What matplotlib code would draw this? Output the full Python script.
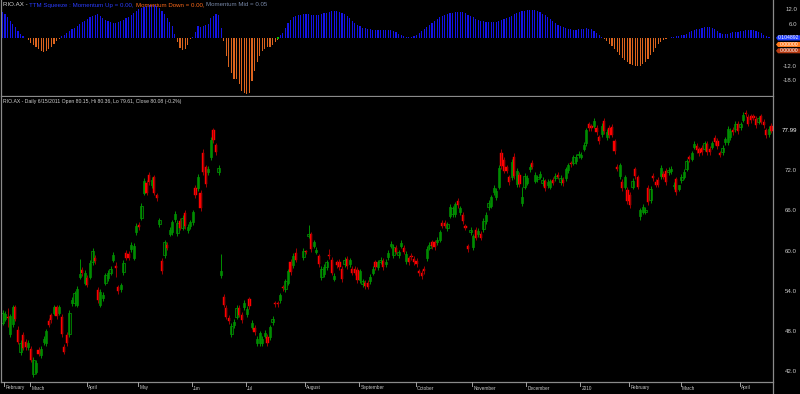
import numpy as np
import pandas as pd
import matplotlib
matplotlib.use('Agg')
import matplotlib.pyplot as plt
from matplotlib.lines import Line2D
from matplotlib.patches import Polygon

plt.rcParams['font.family'] = ['Liberation Sans', 'DejaVu Sans']

nan = float('nan')

opens = [
    49.3, 49.9, 50.2, 47.6, 49.1, 51.6, 48.2, 44.9, 47.5, 46.5,
    45.7, 45.4, 41.6, 42.0, 45.3, 44.5, 46.4, 46.3, 49.6, 50.4,
    50.8, 51.6, 50.8, 50.2, 45.7, 47.5, 47.6, 52.2, 52.2, 52.0,
    56.2, 57.2, 55.3, 56.0, 56.2, 58.3, 59.0, 54.2, 52.0, 53.0,
    55.3, 56.0, 56.8, 58.7, 57.7, 54.6, 54.3, 56.9, 59.7, 59.6,
    60.3, 59.0, 62.8, 63.9, 65.0, 68.7, 70.2, 71.4, 69.8, 71.0,
    68.3, 64.0, 58.5, 59.4, 60.9, 62.6, 62.8, 64.8, 62.7, 64.5,
    63.5, 65.7, 63.1, 63.7, 64.3, 69.4, 69.4, 68.7, 74.6, 72.5,
    71.8, 74.0, 78.0, 75.8, 71.8, 56.4, 53.1, 51.5, 50.0, 47.6,
    48.9, 50.2, 51.5, 50.5, 51.6, 50.6, 52.8, 48.7, 48.5, 46.3,
    46.3, 46.3, 47.4, 47.2, 47.2, 49.4, 52.3, 52.3, 52.7, 54.7,
    54.3, 55.3, 58.4, 57.9, 59.7, nan, nan, 59.1, 59.95, 62.3,
    62.5, 60.8, 59.9, 59.2, 56.1, 56.6, 57.6, 59.35, 58.7, 55.9,
    58.3, 58.4, 57.4, 58.0, 58.8, 58.0, 57.4, 57.4, 57.2, 55.7,
    55.1, 55.3, 55.3, 55.5, 56.8, 58.3, 57.6, 58.4, 58.5, 58.0,
    59.1, 60.8, 59.4, 60.5, 59.4, 60.8, 60.5, 58.5, 58.9, 59.3,
    58.8, 58.5, 57.0, 56.8, 57.4, 58.9, 60.5, 61.3, 61.3, 61.3,
    61.7, 64.2, 64.2, 63.4, 65.3, 65.5, 65.5, 67.5, 65.8, 65.4,
    63.7, 60.7, 62.8, 60.6, 63.2, 62.5, 62.6, 63.3, 64.5, 66.6,
    66.8, 68.8, 68.1, 69.6, 74.6, 73.6, 72.5, 71.0, 71.0, 74.0,
    70.0, 71.4, 67.2, 69.6, 70.2, 72.2, 73.2, 70.5, 70.7, 71.1,
    70.1, 70.4, 69.8, 69.6, 70.6, 70.9, 71.4, 70.3, 70.6, 70.9,
    72.1, 73.1, 73.2, 73.4, 74.3, 74.1, 75.3, 76.1, 78.9, 78.6,
    78.7, 78.4, 77.0, 77.5, 79.4, 77.0, 78.4, 78.5, 76.4, 72.5,
    71.2, 70.3, 69.6, 69.1, 68.4, 69.6, 72.2, 71.0, 65.2, 65.9,
    65.9, 69.4, 67.6, 71.2, 70.3, 70.6, 71.2, 71.5, 72.0, 71.8,
    71.9, 69.7, 70.7, 69.3, 70.6, 71.1, 72.3, 74.0, 73.8, 75.6,
    75.7, 75.2, 75.4, 75.3, 76.0, 75.3, 75.6, 76.9, 76.5, 74.6,
    74.8, 76.3, 76.3, 77.0, 78.1, 78.2, 79.0, 78.5, 79.6, 80.6,
    80.0, 80.1, 80.1, 79.7, 79.3, 80.1, 79.3, 78.0, 77.5, 78.7,
]

closes = [
    50.8, 50.6, 50.0, 50.3, 51.6, 49.9, 46.5, 46.3, 45.6, 45.7,
    46.3, 43.8, 43.8, 43.3, 44.7, 45.4, 46.9, 48.0, 49.0, 49.7,
    51.6, 50.3, 51.6, 47.6, 45.0, 46.3, 50.8, 52.7, 53.7, 54.3,
    56.6, 56.7, 56.8, 55.0, 58.2, 60.0, 58.5, 52.7, 53.9, 53.5,
    56.4, 56.8, 57.4, 59.4, 57.5, 54.0, 54.9, 58.2, 59.0, 59.0,
    60.9, 60.8, 63.8, 63.6, 66.8, 70.5, 68.7, 70.3, 70.6, 68.7,
    67.9, 64.6, 57.0, 61.3, 60.5, 63.2, 64.3, 65.6, 64.2, 63.5,
    65.0, 63.7, 63.6, 64.3, 65.8, 68.3, 71.0, 66.4, 71.8, 70.0,
    72.3, 76.6, 76.6, 74.8, 72.4, 57.0, 52.0, 50.2, 49.5, 48.8,
    49.4, 51.5, 50.5, 49.7, 52.3, 51.4, 51.8, 49.3, 47.9, 46.9,
    47.7, 46.9, 47.8, 46.3, 48.6, 49.9, 52.1, 52.1, 53.4, 54.5,
    55.5, 57.0, 56.9, 59.3, 58.7, nan, nan, 60.0, 59.85, 62.6,
    60.3, 61.3, 60.2, 58.0, 57.4, 57.6, 58.3, 59.25, 56.8, 56.3,
    57.9, 57.6, 55.8, 58.7, 57.8, 58.6, 56.8, 56.8, 55.7, 57.0,
    55.5, 54.8, 54.7, 56.2, 57.4, 57.6, 58.3, 58.7, 57.6, 58.4,
    59.7, 61.1, 60.6, 59.9, 59.8, 61.2, 59.9, 59.6, 58.3, 59.1,
    58.3, 58.0, 56.7, 56.3, 57.0, 60.3, 60.9, 60.7, 60.6, 61.7,
    62.8, 63.8, 63.8, 64.0, 66.6, 66.4, 67.0, 66.9, 66.4, 64.5,
    63.5, 60.3, 63.2, 62.2, 62.0, 63.0, 62.0, 64.5, 65.4, 67.2,
    68.0, 69.4, 69.0, 72.4, 72.7, 72.0, 72.0, 70.3, 73.3, 71.2,
    72.0, 70.0, 68.0, 71.2, 70.9, 72.6, 72.6, 71.4, 71.0, 71.5,
    70.6, 69.4, 70.3, 70.4, 70.2, 71.2, 71.1, 70.9, 70.1, 72.2,
    72.8, 73.0, 74.0, 74.1, 74.5, 74.4, 75.9, 78.0, 78.3, 78.3,
    79.4, 77.8, 76.4, 78.7, 77.9, 77.8, 77.3, 77.4, 74.9, 72.3,
    72.8, 69.4, 71.0, 67.5, 66.9, 70.5, 71.2, 69.6, 66.1, 66.6,
    66.2, 67.3, 69.3, 70.9, 69.9, 69.9, 72.4, 71.1, 70.3, 72.1,
    72.3, 69.9, 68.8, 69.8, 71.1, 71.8, 73.4, 73.7, 74.6, 76.0,
    75.1, 74.6, 74.8, 76.1, 74.8, 74.8, 76.1, 76.3, 75.7, 74.4,
    75.4, 76.7, 78.2, 77.9, 77.8, 79.0, 77.9, 78.9, 80.3, 80.4,
    79.0, 79.5, 79.9, 78.8, 79.8, 79.3, 78.8, 77.3, 78.2, 77.99,
]

highs = [
    51.2, 51.0, 51.5, 50.6, 52.0, 52.0, 48.8, 46.8, 47.9, 46.9,
    46.7, 45.8, 44.2, 43.8, 45.7, 45.8, 47.3, 48.4, 50.0, 50.8,
    52.0, 52.0, 52.0, 50.6, 46.1, 47.9, 51.2, 53.1, 54.1, 54.8,
    58.8, 57.6, 57.2, 56.4, 58.6, 60.4, 59.4, 54.6, 54.3, 53.9,
    56.8, 57.2, 57.8, 59.8, 58.3, 55.0, 55.3, 58.6, 60.1, 60.0,
    61.3, 61.2, 64.2, 64.3, 67.2, 70.9, 70.6, 71.8, 71.0, 71.4,
    68.7, 65.0, 58.9, 61.7, 61.3, 63.6, 64.7, 66.0, 64.6, 64.9,
    65.4, 66.1, 64.0, 64.7, 66.2, 69.8, 71.5, 69.1, 75.2, 72.9,
    72.7, 77.0, 78.4, 76.2, 72.8, 59.5, 53.6, 51.9, 50.4, 49.2,
    49.8, 51.9, 51.9, 50.9, 52.7, 51.8, 53.2, 49.7, 48.9, 47.3,
    48.1, 47.3, 48.2, 47.6, 49.0, 50.3, 52.6, 52.6, 53.8, 55.0,
    55.9, 57.4, 58.8, 59.7, 60.5, nan, nan, 60.4, 60.2, 63.9,
    62.9, 61.7, 60.6, 59.6, 57.8, 58.0, 58.7, 60.3, 59.1, 56.7,
    58.7, 58.8, 57.8, 59.1, 59.2, 59.0, 57.8, 57.8, 57.6, 57.4,
    55.9, 55.7, 55.7, 56.6, 57.8, 58.7, 58.7, 59.1, 58.9, 58.8,
    60.1, 61.5, 61.0, 60.9, 60.2, 61.6, 60.9, 60.0, 59.3, 59.7,
    59.2, 58.9, 57.4, 57.2, 57.8, 60.7, 61.3, 61.7, 61.7, 62.1,
    63.2, 64.6, 64.6, 64.4, 67.0, 66.8, 67.4, 67.9, 66.8, 65.8,
    64.1, 61.1, 63.6, 62.6, 63.6, 63.4, 63.0, 64.9, 65.8, 67.6,
    68.4, 69.8, 69.4, 72.8, 75.2, 74.0, 72.9, 71.4, 73.7, 74.6,
    72.4, 71.8, 69.6, 71.6, 71.3, 73.0, 73.6, 71.8, 71.4, 71.9,
    71.0, 70.8, 70.7, 70.8, 71.0, 71.6, 71.8, 71.3, 71.0, 72.6,
    73.2, 73.4, 74.4, 74.5, 74.9, 74.8, 76.3, 78.4, 79.3, 79.0,
    79.8, 78.8, 77.4, 79.1, 79.8, 78.2, 78.8, 78.9, 76.8, 73.0,
    73.2, 70.7, 71.4, 69.5, 68.8, 70.9, 72.6, 71.4, 66.5, 67.0,
    66.6, 69.8, 69.7, 71.6, 70.7, 71.0, 72.8, 71.9, 72.4, 72.5,
    72.7, 70.3, 71.1, 69.8, 71.5, 72.2, 73.8, 74.4, 75.0, 76.4,
    76.1, 75.6, 75.8, 76.5, 76.4, 75.7, 76.5, 77.3, 76.9, 75.0,
    75.8, 77.1, 78.6, 78.3, 78.5, 79.4, 79.4, 79.3, 80.7, 81.0,
    80.4, 80.5, 80.5, 80.1, 80.2, 80.5, 79.7, 78.4, 78.6, 79.1,
]

lows = [
    48.9, 49.5, 48.6, 47.2, 48.7, 49.5, 46.1, 44.5, 45.2, 45.3,
    45.3, 43.4, 41.2, 41.6, 44.3, 44.1, 46.0, 45.9, 48.6, 49.3,
    50.4, 49.9, 50.4, 47.2, 44.6, 45.9, 47.2, 51.8, 51.8, 51.6,
    55.8, 56.3, 54.9, 54.6, 55.8, 57.9, 58.1, 52.3, 51.6, 52.6,
    54.9, 55.6, 56.4, 58.3, 56.1, 53.6, 53.9, 56.5, 58.6, 58.6,
    59.9, 58.6, 62.4, 63.2, 64.6, 68.3, 68.3, 69.9, 69.4, 68.3,
    67.5, 63.6, 56.6, 59.0, 60.1, 62.2, 62.4, 64.4, 62.3, 63.1,
    63.1, 63.3, 62.7, 63.3, 63.9, 67.9, 69.0, 66.0, 71.4, 69.6,
    71.4, 73.6, 76.2, 74.4, 71.4, 56.0, 51.6, 49.8, 49.1, 47.2,
    48.5, 49.8, 50.1, 49.3, 51.2, 50.2, 51.4, 48.3, 47.5, 45.9,
    45.9, 45.9, 47.0, 45.9, 46.8, 49.0, 51.7, 51.7, 52.3, 54.1,
    53.9, 54.9, 56.5, 57.5, 58.3, nan, nan, 58.7, 59.5, 61.9,
    59.9, 60.4, 59.5, 57.6, 55.7, 56.2, 57.2, 58.8, 56.4, 55.5,
    57.5, 57.2, 55.4, 57.6, 57.4, 57.6, 56.4, 56.4, 55.3, 55.3,
    54.7, 54.4, 54.3, 55.1, 56.4, 57.2, 57.2, 58.0, 57.2, 57.6,
    58.7, 60.4, 59.0, 59.5, 59.0, 60.4, 59.5, 58.1, 57.9, 58.7,
    57.9, 57.6, 56.3, 55.9, 56.6, 58.5, 60.1, 60.3, 60.2, 60.9,
    61.3, 63.4, 63.4, 63.0, 64.9, 65.1, 65.1, 66.5, 65.4, 64.1,
    63.1, 59.9, 62.4, 60.2, 61.6, 62.1, 61.6, 62.9, 64.1, 66.2,
    66.4, 68.4, 67.7, 69.2, 72.3, 71.6, 71.6, 69.9, 70.6, 70.8,
    69.6, 69.6, 66.8, 69.2, 69.8, 71.8, 72.2, 70.1, 70.3, 70.7,
    69.7, 69.0, 69.4, 69.2, 69.8, 70.5, 70.7, 69.9, 69.7, 70.5,
    71.7, 72.6, 72.8, 73.0, 73.9, 73.7, 74.9, 75.7, 77.9, 77.9,
    78.3, 77.4, 76.0, 77.1, 77.5, 76.6, 76.9, 77.0, 74.5, 71.9,
    70.8, 69.0, 69.2, 67.1, 66.5, 69.2, 70.8, 69.2, 64.6, 65.5,
    65.5, 66.9, 67.2, 70.5, 69.5, 69.5, 70.8, 70.7, 69.9, 71.4,
    71.5, 69.3, 68.4, 68.9, 70.2, 70.7, 71.9, 73.3, 73.4, 75.2,
    74.7, 74.2, 74.4, 74.9, 74.4, 74.4, 75.2, 75.9, 75.3, 74.0,
    74.4, 75.9, 75.9, 76.6, 77.4, 77.8, 77.5, 78.1, 79.2, 80.0,
    78.6, 79.1, 79.5, 78.4, 78.9, 78.9, 78.4, 76.9, 77.1, 77.6,
]

momentum = [
    11.2, 10.3, 9.0, 7.5, 6.0, 4.6, 3.2, 2.0, 1.0, 0.2,
    -0.8, -1.8, -2.8, -3.8, -4.6, -5.2, -5.6, -5.3, -4.5, -3.5,
    -2.4, -1.2, -0.2, 0.8, 1.6, 2.4, 3.0, 3.8, 4.4, 5.2,
    6.0, 6.8, 7.5, 8.2, 8.8, 9.3, 9.8, 10.2, 9.5, 8.6,
    7.8, 7.2, 6.8, 6.6, 6.6, 6.8, 7.2, 7.8, 8.5, 9.2,
    10.0, 10.8, 11.6, 12.3, 12.9, 13.4, 13.8, 14.0, 14.2, 14.0,
    13.6, 12.8, 11.6, 10.2, 8.6, 7.0, 5.0, 2.0, -1.5, -4.1,
    -5.0, -4.4, -2.8, -0.5, 0.6, 2.7, 5.2, 4.6, 5.2, 5.6,
    6.0, 8.5, 9.6, 10.3, 10.0, 4.2, -1.0, -7.3, -12.3, -14.5,
    -17.0, -17.2, -19.3, -22.3, -23.0, -23.5, -23.0, -18.0, -13.7, -10.2,
    -7.3, -5.2, -4.4, -3.7, -3.7, -3.0, -1.6, -0.6, 1.4, 2.2,
    4.2, 6.3, 7.8, 8.8, 9.5, 9.9, 10.0, 10.2, 10.3, 10.2,
    10.0, 9.8, 9.8, 10.0, 10.3, 10.6, 10.9, 11.2, 11.4, 11.5,
    11.4, 11.2, 10.8, 10.2, 9.4, 8.4, 7.4, 6.4, 5.6, 5.0,
    4.5, 4.2, 4.0, 3.8, 3.6, 3.5, 3.4, 3.4, 3.5, 3.6,
    3.6, 3.4, 3.0, 2.6, 2.0, 1.5, 1.0, 0.6, 0.4, 0.5,
    0.9, 1.5, 2.2, 3.0, 3.9, 4.8, 5.7, 6.6, 7.4, 8.1,
    8.8, 9.4, 9.9, 10.3, 10.6, 10.9, 11.1, 11.2, 11.2, 11.0,
    10.6, 10.0, 9.4, 8.8, 8.3, 7.9, 7.5, 7.2, 7.0, 6.9,
    6.9, 7.0, 7.1, 7.3, 7.6, 8.0, 8.5, 9.0, 9.6, 10.1,
    10.6, 11.0, 11.4, 11.7, 11.9, 12.0, 12.0, 11.8, 11.5, 11.0,
    10.4, 9.7, 9.0, 8.2, 7.4, 6.6, 5.8, 5.2, 4.7, 4.3,
    4.0, 3.8, 3.7, 3.7, 3.8, 3.9, 4.1, 4.2, 4.1, 3.8,
    3.2, 2.4, 1.5, 0.6, -0.3, -1.2, -2.2, -3.3, -4.5, -5.8,
    -7.0, -8.2, -9.3, -10.2, -10.9, -11.4, -11.7, -11.8, -11.6, -11.0,
    -10.0, -8.7, -7.2, -5.6, -4.0, -2.6, -1.5, -0.8, -0.3, 0.1,
    0.4, 0.6, 0.8, 1.0, 1.3, 1.6, 2.0, 2.5, 3.0, 3.6,
    4.1, 4.0, 4.4, 4.6, 4.7, 4.6, 4.3, 3.8, 3.0, 2.4,
    1.9, 1.8, 2.0, 2.3, 2.5, 2.6, 2.7, 2.9, 3.3, 3.5,
    3.6, 3.6, 3.4, 3.0, 2.6, 2.2, 1.6, 1.1, 0.6, 0.104892,
]

squeeze_dots = [107]

holidays = pd.to_datetime(['2009-04-10', '2009-04-13', '2009-06-08', '2009-12-25',
                           '2009-12-28', '2010-01-01', '2010-01-26', '2010-04-02',
                           '2010-04-05'])
month_labels = ['February', 'March', 'April', 'May', 'Jun', 'Jul', 'August',
                'September', 'October', 'November', 'December', '2010',
                'February', 'March', 'April']
price_ticks = [72.0, 66.0, 60.0, 54.0, 48.0, 42.0]
mom_ticks = [12.0, 6.0, -12.0, -18.0]

title_top = [("RIO.AX - ", '#d8d8d8'),
             ("TTM Squeeze : Momentum Up = 0.00, ", '#2a3cff'),
             ("Momentum Down = 0.00, ", '#ff6a1a'),
             ("Momentum Mid = 0.05", '#7888a8')]
title_bottom = "RIO.AX - Daily 6/15/2011 Open 80.15, Hi 80.36, Lo 79.61, Close 80.08 (-0.2%)"

# ---------------------------------------------------------------------------
n = len(closes)
o = np.array(opens, float)
c = np.array(closes, float)
h = np.array(highs, float)
l = np.array(lows, float)
m = np.array(momentum, float)
idx = np.arange(n)

all_days = pd.bdate_range('2009-02-16', '2010-06-30')
dates = all_days[~all_days.isin(holidays)][:n]

W, H = 800, 394
fig = plt.figure(figsize=(W / 100, H / 100), dpi=100, facecolor='black')
renderer = fig.canvas.get_renderer()


def box(x0, y0, x1, y1):
    return [x0 / W, 1 - y1 / H, (x1 - x0) / W, (y1 - y0) / H]


XMIN, XMAX = -0.6, 299.6
AX_L, AX_R = 1, 773
ax1 = fig.add_axes(box(AX_L, 0, AX_R, 96))
ax2 = fig.add_axes(box(AX_L, 97, AX_R, 382))
for ax in (ax1, ax2):
    ax.set_facecolor('black')
    ax.set_xlim(XMIN, XMAX)
    ax.set_xticks([])
    ax.set_yticks([])
    for s in ax.spines.values():
        s.set_color('#8a8a8a')
        s.set_linewidth(0.9)
    ax.spines['top'].set_visible(False)
    ax.spines['right'].set_visible(False)

ax1.set_ylim(-24.4, 16.2)
ax2.set_ylim(40.46, 83.0)

# momentum histogram
col_m = np.where(m >= 0, '#1414e6', '#dc641e')
ax1.bar(idx, m, width=0.48, color=col_m, linewidth=0)
ax1.plot(squeeze_dots, [0] * len(squeeze_dots), 's', color='#00c000', ms=1.8, mew=0)

# candles
valid = ~np.isnan(c)
up = valid & (c >= o)
dn = valid & (c < o)
ax2.vlines(idx[up], l[up], h[up], color='#009000', linewidth=0.7)
ax2.vlines(idx[dn], l[dn], h[dn], color='#a00000', linewidth=0.7)
ax2.bar(idx[up], np.maximum(c[up] - o[up], 0.08), bottom=o[up], width=0.9,
        facecolor='#001a00', edgecolor='#00a000', linewidth=0.5)
ax2.bar(idx[dn], np.minimum(c[dn] - o[dn], -0.08), bottom=o[dn], width=0.85,
        facecolor='#ff0000', edgecolor='#ff0000', linewidth=0.3)


def px_x(i):
    return AX_L + (i - XMIN) / (XMAX - XMIN) * (AX_R - AX_L)


def fit(text, target, base=6.0):
    t = fig.text(0, 0, text, fontsize=base)
    w = t.get_window_extent(renderer).width
    t.remove()
    return base * target / w


# right-hand vertical separator
fig.add_artist(Line2D([AX_R / W, AX_R / W], [0, 1], color='#8a8a8a', lw=0.9))

# headers
s_top = fit(''.join(p for p, _ in title_top), 267)
x = 3.0
for part, col in title_top:
    t = fig.text(x / W, 1 - 5 / H, part, color=col, fontsize=s_top, va='center', ha='left')
    x += t.get_window_extent(renderer).width
s_bot = fit(title_bottom, 181)
fig.text(3 / W, 1 - 101.5 / H, title_bottom, color='#d0d0d0', fontsize=s_bot,
         va='center', ha='left')

# axis labels (right)
s_lab = fit('72.0', 12.0)


def y_px(ax, v, y0, y1):
    lo, hi = ax.get_ylim()
    return y1 - (v - lo) / (hi - lo) * (y1 - y0)


for v in price_ticks:
    fig.text(797 / W, 1 - y_px(ax2, v, 97, 382) / H, f'{v:.1f}', color='#c8c8c8',
             fontsize=s_lab, ha='right', va='center')
fig.text(797 / W, 1 - y_px(ax2, c[-1], 97, 382) / H, f'{c[-1]:.2f}', color='#ffffff',
         fontsize=s_lab, ha='right', va='center')
for v in mom_ticks:
    fig.text(797 / W, 1 - y_px(ax1, v, 0, 96) / H, f'{v:.1f}', color='#c8c8c8',
             fontsize=s_lab, ha='right', va='center')

# value boxes on the momentum scale
boxes = [(f'{m[-1]:.6f}', '#1e3cff', 35.3, 40.5),
         ('0.00000', '#ff7a1e', 42.0, 47.0),
         ('0.00000', '#b83c14', 48.3, 53.3)]
s_box = fit('0.104892', 21.5)
for txt, fc, y0, y1 in boxes:
    poly = Polygon([(776 / W, 1 - (y0 + y1) / 2 / H), (778 / W, 1 - y0 / H),
                    (800 / W, 1 - y0 / H), (800 / W, 1 - y1 / H), (778 / W, 1 - y1 / H)],
                   closed=True, transform=fig.transFigure, facecolor=fc, edgecolor='none')
    fig.add_artist(poly)
    fig.text(789 / W, 1 - (y0 + y1) / 2 / H, txt, color='white', fontsize=s_box,
             ha='center', va='center')

# month ticks and labels
s_month = fit('February', 19)
starts = [0] + [i for i in range(1, n) if dates[i].month != dates[i - 1].month]
for pos, lab in zip(starts, month_labels):
    xp = px_x(pos + 0.65)
    fig.add_artist(Line2D([xp / W, xp / W], [1 - 382 / H, 1 - 385.5 / H],
                          color='#a0a0a0', lw=0.7))
    fig.text((xp + 1.2) / W, 1 - 388 / H, lab, color='#c8c8c8', fontsize=s_month,
             ha='left', va='center')

fig.savefig('out.png', dpi=100, facecolor='black')
